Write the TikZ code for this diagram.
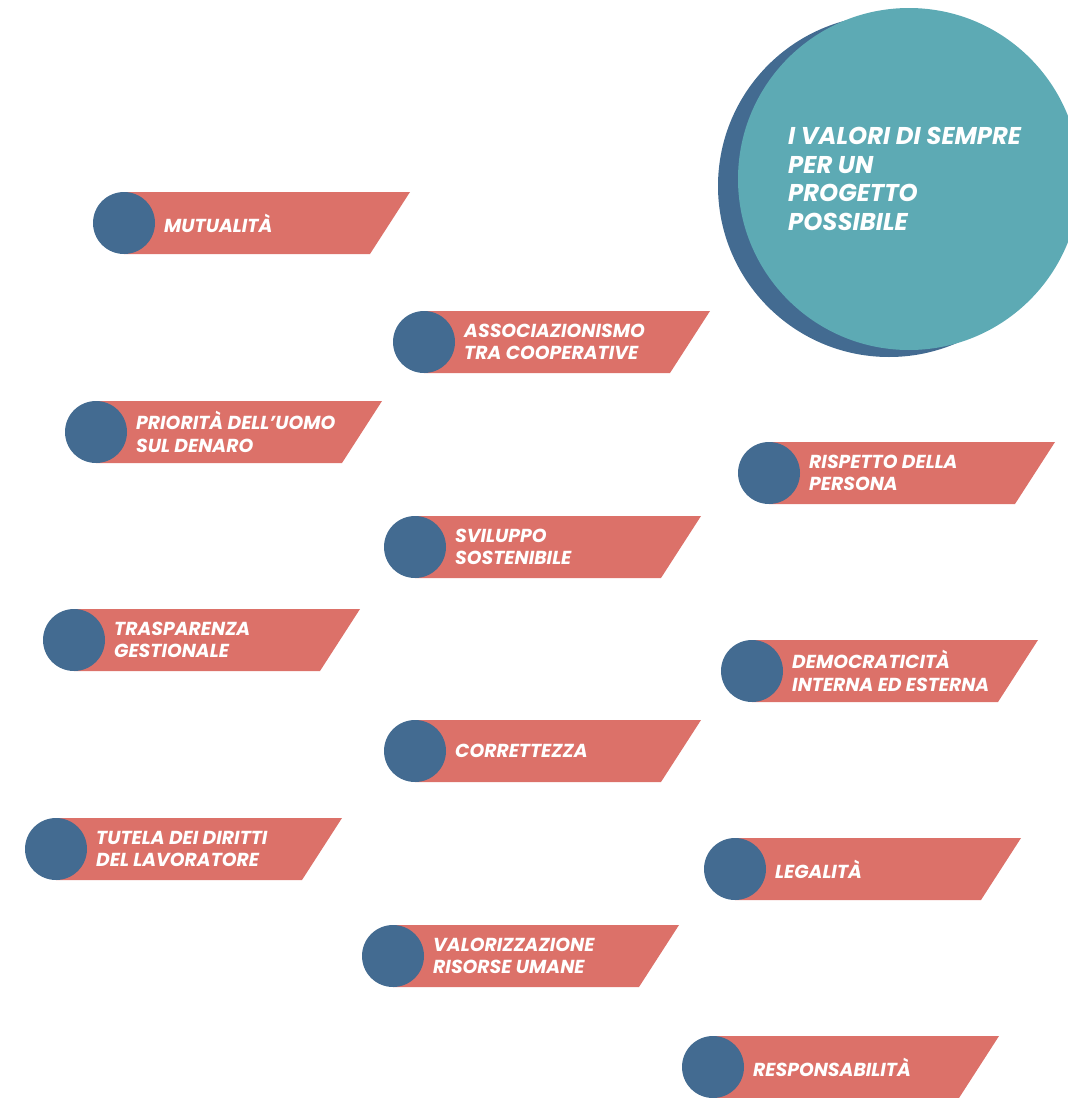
\documentclass[tikz,border=0pt]{standalone}
\usepackage{fontspec}
\setmainfont{Poppins}
\definecolor{banda}{HTML}{DC7169}
\definecolor{blu}{HTML}{436B91}
\definecolor{verdeacqua}{HTML}{5DAAB4}
\tikzset{
  banner/.style={fill=banda},
  bluedot/.style={circle, fill=blu, minimum size=62pt, inner sep=0pt},
  valtext/.style={anchor=west, text=white, align=left, inner sep=0pt, font=\fontsize{18.8}{22.5}\selectfont\bfseries\itshape},
  bigdisc/.style={circle, minimum size=342pt, inner sep=0pt},
  titletext/.style={anchor=north west, text=white, align=left, inner sep=0pt, font=\fontsize{24.3}{28.5}\selectfont\bfseries\itshape},
  valore/.pic={
    \fill[banner] (0,-31) -- (286,-31) -- (246,31) -- (0,31) -- cycle;
    \node[bluedot] (-dot) at (0,0) {};
    \node[valtext] (-txt) at (40,0) {#1};
  }
}

\begin{document}
\begin{tikzpicture}[x=1pt, y=-1pt]
  \clip (0,0) rectangle (1068,1098);
  % big title disc
  \node[bigdisc, fill=blu] (ombra) at (889,186) {};
  \node[bigdisc, fill=verdeacqua] (disco) at (909,179) {};
  \node[titletext] (titolo) at (788,127) {I VALORI DI SEMPRE\\PER UN\\PROGETTO\\POSSIBILE};
  % left column
  \pic (mut) at (124,223) {valore={MUTUALITÀ}};
  \pic (pri) at (96,432) {valore={PRIORITÀ DELL’UOMO\\SUL DENARO}};
  \pic (tra) at (74,640) {valore={TRASPARENZA\\GESTIONALE}};
  \pic (tut) at (56,849) {valore={TUTELA DEI DIRITTI\\DEL LAVORATORE}};
  % middle column
  \pic (ass) at (424,342) {valore={ASSOCIAZIONISMO\\TRA COOPERATIVE}};
  \pic (svi) at (415,547) {valore={SVILUPPO\\SOSTENIBILE}};
  \pic (cor) at (415,751) {valore={CORRETTEZZA}};
  \pic (vrz) at (393,956) {valore={VALORIZZAZIONE\\RISORSE UMANE}};
  % right column
  \pic (ris) at (769,473) {valore={RISPETTO DELLA\\PERSONA}};
  \pic (dem) at (752,671) {valore={DEMOCRATICITÀ\\INTERNA ED ESTERNA}};
  \pic (leg) at (735,869) {valore={LEGALITÀ}};
  \pic (res) at (713,1067) {valore={RESPONSABILITÀ}};
\end{tikzpicture}
\end{document}
